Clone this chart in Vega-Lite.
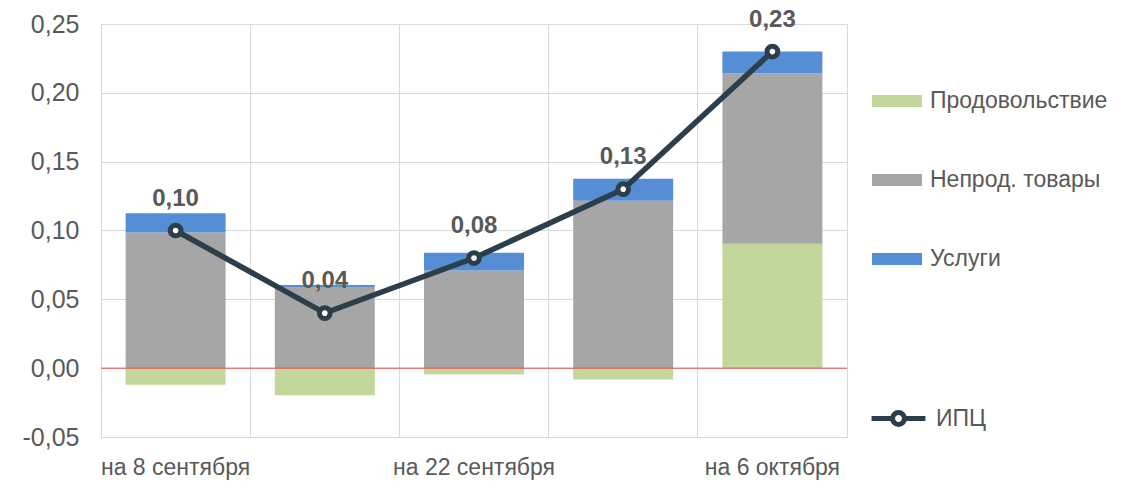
{
  "$schema": "https://vega.github.io/schema/vega-lite/v6.json",
  "width": 746,
  "height": 413,
  "autosize": {"type": "none"},
  "padding": {"left": 101, "top": 24, "right": 295, "bottom": 45},
  "background": "white",
  "config": {
    "font": "Liberation Sans",
    "view": {"stroke": "#d9d9d9", "strokeWidth": 1},
    "locale": {"number": {"decimal": ",", "thousands": " ", "grouping": [3], "currency": ["", ""], "minus": "-"}}
  },
  "datasets": {
    "bars": [
      {"date": "на 8 сентября", "component": "Продовольствие", "value": -0.012},
      {"date": "на 8 сентября", "component": "Непрод. товары", "value": 0.0986},
      {"date": "на 8 сентября", "component": "Услуги", "value": 0.014},
      {"date": "на 15 сентября", "component": "Продовольствие", "value": -0.0196},
      {"date": "на 15 сентября", "component": "Непрод. товары", "value": 0.059},
      {"date": "на 15 сентября", "component": "Услуги", "value": 0.0015},
      {"date": "на 22 сентября", "component": "Продовольствие", "value": -0.0046},
      {"date": "на 22 сентября", "component": "Непрод. товары", "value": 0.0709},
      {"date": "на 22 сентября", "component": "Услуги", "value": 0.013},
      {"date": "на 29 сентября", "component": "Продовольствие", "value": -0.0082},
      {"date": "на 29 сентября", "component": "Непрод. товары", "value": 0.1216},
      {"date": "на 29 сентября", "component": "Услуги", "value": 0.016},
      {"date": "на 6 октября", "component": "Продовольствие", "value": 0.0904},
      {"date": "на 6 октября", "component": "Непрод. товары", "value": 0.1238},
      {"date": "на 6 октября", "component": "Услуги", "value": 0.0158}
    ],
    "cpi": [
      {"date": "на 8 сентября", "series": "ИПЦ", "value": 0.10},
      {"date": "на 15 сентября", "series": "ИПЦ", "value": 0.04},
      {"date": "на 22 сентября", "series": "ИПЦ", "value": 0.08},
      {"date": "на 29 сентября", "series": "ИПЦ", "value": 0.13},
      {"date": "на 6 октября", "series": "ИПЦ", "value": 0.23}
    ]
  },
  "layer": [
    {
      "data": {"name": "bars"},
      "transform": [
        {"calculate": "indexof(['Продовольствие','Непрод. товары','Услуги'], datum.component)", "as": "ord"}
      ],
      "mark": {"type": "bar"},
      "encoding": {
        "x": {
          "field": "date",
          "type": "nominal",
          "sort": ["на 8 сентября", "на 15 сентября", "на 22 сентября", "на 29 сентября", "на 6 октября"],
          "scale": {"paddingInner": 0.33, "paddingOuter": 0.165},
          "axis": {
            "title": null,
            "labelAngle": 0,
            "bandPosition": -0.246,
            "labelOffset": 0,
            "grid": true,
            "gridColor": "#d9d9d9",
            "gridWidth": 1,
            "ticks": false,
            "domain": false,
            "labelFont": "Liberation Sans",
            "labelFontSize": 23,
            "labelColor": "#595959",
            "labelPadding": 19,
            "labelExpr": "indexof(['на 8 сентября','на 22 сентября','на 6 октября'], datum.value) >= 0 ? datum.value : ''"
          }
        },
        "y": {
          "field": "value",
          "type": "quantitative",
          "stack": "zero",
          "scale": {"domain": [-0.05, 0.25], "nice": false, "zero": false},
          "axis": {
            "title": null,
            "values": [-0.05, 0, 0.05, 0.1, 0.15, 0.2, 0.25],
            "format": ".2f",
            "grid": true,
            "gridColor": "#d9d9d9",
            "domain": false,
            "ticks": false,
            "labelFont": "Liberation Sans",
            "labelFontSize": 25,
            "labelColor": "#595959",
            "labelPadding": 22
          }
        },
        "fill": {
          "field": "component",
          "type": "nominal",
          "scale": {
            "domain": ["Продовольствие", "Непрод. товары", "Услуги"],
            "range": ["#C3D69B", "#A6A6A6", "#558ED5"]
          },
          "legend": {
            "title": null,
            "orient": "none",
            "legendX": 771,
            "legendY": 52,
            "symbolType": "M-1,-0.24H1V0.24H-1Z",
            "symbolSize": 2500,
            "symbolStrokeWidth": 0,
            "labelFont": "Liberation Sans",
            "labelFontSize": 23,
            "labelColor": "#595959",
            "labelOffset": 8,
            "labelLimit": 400,
            "rowPadding": 42
          }
        },
        "order": {"field": "ord", "type": "quantitative"}
      }
    },
    {
      "data": {"values": [{"z": 0}]},
      "mark": {"type": "rule", "color": "#E8474A", "strokeWidth": 1},
      "encoding": {"y": {"field": "z", "type": "quantitative"}}
    },
    {
      "data": {"name": "cpi"},
      "mark": {"type": "line", "strokeWidth": 5.5, "point": {"filled": true, "fill": "white", "stroke": "#2C3E4A", "strokeWidth": 5, "size": 115}},
      "encoding": {
        "x": {"field": "date", "type": "nominal", "sort": ["на 8 сентября", "на 15 сентября", "на 22 сентября", "на 29 сентября", "на 6 октября"]},
        "y": {"field": "value", "type": "quantitative"},
        "stroke": {
          "field": "series",
          "type": "nominal",
          "scale": {"domain": ["ИПЦ"], "range": ["#2C3E4A"]},
          "legend": {
            "title": null,
            "orient": "none",
            "legendX": 768,
            "legendY": 365,
            "symbolType": "M-1,0H-0.22M0.22,0H1M-0.22,0A0.22,0.22 0 1,0 0.22,0A0.22,0.22 0 1,0 -0.22,0",
            "symbolSize": 2900,
            "symbolStrokeWidth": 5,
            "symbolFillColor": "white",
            "labelFont": "Liberation Sans",
            "labelFontSize": 23,
            "labelColor": "#595959",
            "labelOffset": 8,
            "labelLimit": 400
          }
        }
      }
    },
    {
      "data": {"name": "cpi"},
      "mark": {"type": "text", "dy": -32, "fontSize": 24, "fontWeight": "bold", "color": "#595959", "font": "Liberation Sans"},
      "encoding": {
        "x": {"field": "date", "type": "nominal", "sort": ["на 8 сентября", "на 15 сентября", "на 22 сентября", "на 29 сентября", "на 6 октября"]},
        "y": {"field": "value", "type": "quantitative"},
        "text": {"field": "value", "type": "quantitative", "format": ".2f"}
      }
    }
  ]
}
